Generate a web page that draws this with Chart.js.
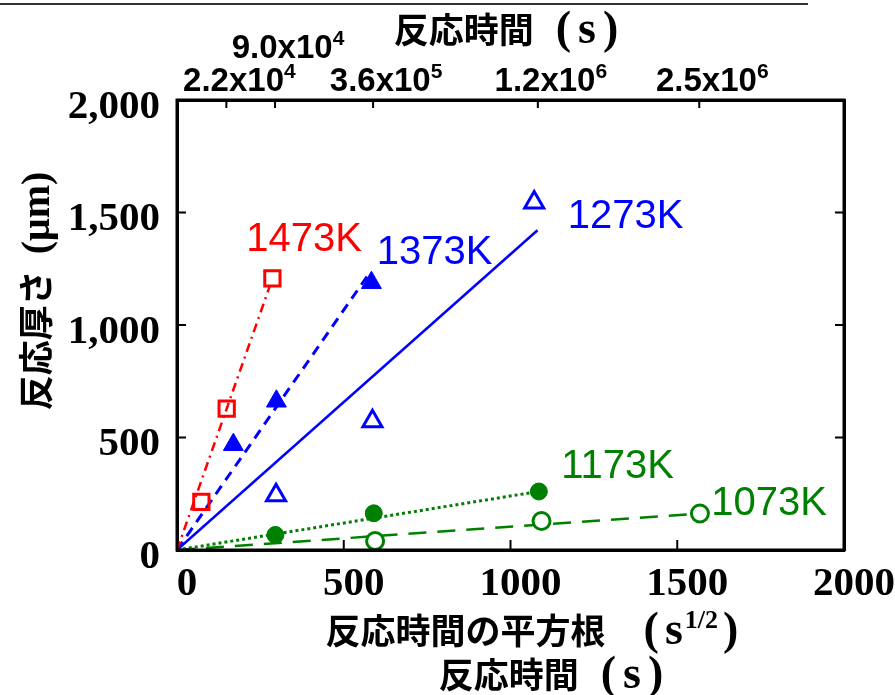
<!DOCTYPE html>
<html>
<head>
<meta charset="utf-8">
<script src="https://cdn.jsdelivr.net/npm/chart.js@4.4.1/dist/chart.umd.min.js"></script>
<style>
  html, body { margin: 0; padding: 0; background: #ffffff; }
  canvas { display: block; }
</style>
</head>
<body>
<canvas id="chart" width="895" height="695"></canvas>
<script>
// Reaction layer thickness (µm) against the square root of reaction time (s^1/2)

const xTickValues = [0, 500, 1000, 1500, 2000];
const yTickValues = [0, 500, 1000, 1500, 2000];

// upper time axis: positions in s^1/2 and the labels in seconds
const timeTickValues   = [148, 294, 588, 1082, 1566];
const timeTickMantissa = ['2.2', '9.0', '3.6', '1.2', '2.5'];
const timeTickExponent = ['4', '4', '5', '6', '6'];
const timeTickRow      = [0, 1, 0, 0, 0];

// measured points, one pair of arrays per temperature
const x1473 = [73, 149, 286];
const y1473 = [214, 628, 1207];
const x1373 = [169, 298, 583];
const y1373 = [468, 661, 1188];
const x1273 = [297, 586, 1071];
const y1273 = [243, 572, 1545];
const x1173 = [295, 590, 1085];
const y1173 = [67, 163, 260];
const x1073 = [594, 1093, 1568];
const y1073 = [40, 129, 162];

// parabolic-law fits through the origin
const fitX1473 = [0, 279];
const fitY1473 = [0, 1176];
const fitX1373 = [0, 572];
const fitY1373 = [0, 1220];
const fitX1273 = [0, 1081];
const fitY1273 = [0, 1421];
const fitX1173 = [0, 1075];
const fitY1173 = [0, 258];
const fitX1073 = [0, 1545];
const fitY1073 = [0, 160];

// temperature labels and where they sit (data units, left / baseline)
const seriesNames  = ['1473K', '1373K', '1273K', '1173K', '1073K'];
const seriesLabelX = [208, 599, 1172, 1152, 1602];
const seriesLabelY = [1330, 1270, 1431, 319, 156];

const RED = '#ff0000';
const BLUE = '#0000ff';
const GREEN = '#008000';
const seriesColors = [RED, BLUE, BLUE, GREEN, GREEN];

const toXY = (xs, ys) => xs.map((x, i) => ({ x: x, y: ys[i] }));

const CJK = '"Noto Sans CJK JP", "Noto Sans CJK SC", sans-serif';
const SERIF = '"Liberation Serif", "Times New Roman", serif';
const SANS = '"Liberation Sans", Arial, sans-serif';

function markers(label, xs, ys, color, style, radius, filled, border) {
  return {
    label: label,
    data: toXY(xs, ys),
    showLine: false,
    pointStyle: style,
    pointRadius: radius,
    pointHoverRadius: radius,
    pointBorderWidth: border,
    pointBorderColor: color,
    pointBackgroundColor: filled === true ? color : filled,
    order: 0
  };
}

function fitLine(label, xs, ys, color, dash, width) {
  return {
    label: label,
    data: toXY(xs, ys),
    showLine: true,
    fill: false,
    borderColor: color,
    borderWidth: width,
    borderDash: dash,
    pointRadius: 0,
    pointHoverRadius: 0,
    order: 1
  };
}

// draws a run of text pieces in different fonts, centred on cx
function drawRuns(ctx, runs, cx, baseline) {
  let total = 0;
  runs.forEach(r => {
    ctx.font = r.font;
    r.w = ctx.measureText(r.t).width;
    total += r.w + (r.gap || 0);
  });
  let x = cx - total / 2;
  ctx.textAlign = 'left';
  ctx.textBaseline = 'alphabetic';
  runs.forEach(r => {
    x += (r.gap || 0);
    ctx.font = r.font;
    ctx.fillText(r.t, x, baseline - (r.rise || 0));
    x += r.w;
  });
}

const PAREN = 'bold 46px ' + SERIF;
const TITLE = 'bold 35px ' + CJK;

// "(s)" spelled out with a little air between the glyphs
function secondsUnit(lead) {
  return [
    { t: '(', font: PAREN, gap: lead },
    { t: 's', font: PAREN, gap: 7 },
    { t: ')', font: PAREN, gap: 7 }
  ];
}

const decorations = {
  id: 'decorations',
  afterDraw(chart) {
    const ctx = chart.ctx;
    const xs = chart.scales.x;
    const ys = chart.scales.y;
    const area = chart.chartArea;
    ctx.save();

    // rule across the top of the sheet
    ctx.strokeStyle = '#333333';
    ctx.lineWidth = 2;
    ctx.beginPath();
    ctx.moveTo(0, 4);
    ctx.lineTo(808, 4);
    ctx.stroke();

    // frame
    ctx.strokeStyle = '#000000';
    ctx.lineWidth = 3;
    ctx.strokeRect(area.left, area.top, area.right - area.left, area.bottom - area.top);

    // inward tick marks
    ctx.lineWidth = 2;
    ctx.beginPath();
    xTickValues.slice(1, -1).forEach(v => {
      const px = xs.getPixelForValue(v);
      ctx.moveTo(px, area.bottom);
      ctx.lineTo(px, area.bottom - 10);
    });
    yTickValues.slice(1, -1).forEach(v => {
      const py = ys.getPixelForValue(v);
      ctx.moveTo(area.left, py);
      ctx.lineTo(area.left + 9, py);
      ctx.moveTo(area.right, py);
      ctx.lineTo(area.right - 9, py);
    });
    timeTickValues.forEach(v => {
      const px = xs.getPixelForValue(v);
      ctx.moveTo(px, area.top);
      ctx.lineTo(px, area.top + 8);
    });
    ctx.stroke();

    // upper axis labels: reaction time in seconds
    ctx.fillStyle = '#000000';
    timeTickValues.forEach((v, i) => {
      const px = xs.getPixelForValue(v) + 13;
      const base = timeTickRow[i] === 0 ? 91 : 58;
      drawRuns(ctx, [
        { t: timeTickMantissa[i] + 'x10', font: 'bold 33px ' + SANS },
        { t: timeTickExponent[i], font: 'bold 21px ' + SANS, rise: 13 }
      ], px, base);
    });

    // axis titles
    drawRuns(ctx, [{ t: '反応時間', font: TITLE }].concat(secondsUnit(22)), 506, 43);
    drawRuns(ctx, [
      { t: '反応時間の平方根', font: TITLE },
      { t: '(', font: PAREN, gap: 38 },
      { t: 's', font: PAREN, gap: 6 },
      { t: '1/2', font: 'bold 26px ' + SERIF, rise: 16, gap: 2 },
      { t: ')', font: PAREN, gap: 5 }
    ], 532, 644);
    drawRuns(ctx, [{ t: '反応時間', font: TITLE }].concat(secondsUnit(22)), 551, 688);

    ctx.save();
    ctx.translate(49, 291);
    ctx.rotate(-Math.PI / 2);
    drawRuns(ctx, [
      { t: '反応厚さ', font: TITLE },
      { t: '(μm)', font: 'bold 40px ' + SERIF, gap: 16 }
    ], 0, 0);
    ctx.restore();

    // temperature labels
    ctx.font = '40px ' + SANS;
    ctx.textAlign = 'left';
    ctx.textBaseline = 'alphabetic';
    seriesNames.forEach((name, i) => {
      ctx.fillStyle = seriesColors[i];
      ctx.fillText(name, xs.getPixelForValue(seriesLabelX[i]), ys.getPixelForValue(seriesLabelY[i]));
    });

    ctx.restore();
  }
};

new Chart(document.getElementById('chart'), {
  type: 'scatter',
  data: {
    datasets: [
      markers('1473K', x1473, y1473, RED, 'rect', 10.8, 'rgba(0,0,0,0)', 3),
      markers('1373K', x1373, y1373, BLUE, 'triangle', 11.5, true, 1),
      markers('1273K', x1273, y1273, BLUE, 'triangle', 11, '#ffffff', 3),
      markers('1173K', x1173, y1173, GREEN, 'circle', 8.5, true, 1),
      markers('1073K', x1073, y1073, GREEN, 'circle', 8.5, '#ffffff', 3),
      fitLine('1473K fit', fitX1473, fitY1473, RED, [9, 5, 2, 5], 2.5),
      fitLine('1373K fit', fitX1373, fitY1373, BLUE, [10, 7], 3),
      fitLine('1273K fit', fitX1273, fitY1273, BLUE, [], 2.5),
      fitLine('1173K fit', fitX1173, fitY1173, GREEN, [3, 3], 3),
      fitLine('1073K fit', fitX1073, fitY1073, GREEN, [18, 11], 2.5)
    ]
  },
  options: {
    responsive: false,
    animation: false,
    devicePixelRatio: 1,
    layout: { padding: 0 },
    plugins: { legend: { display: false }, tooltip: { enabled: false } },
    scales: {
      x: {
        type: 'linear',
        position: 'bottom',
        min: 0,
        max: 2000,
        afterBuildTicks: s => { s.ticks = xTickValues.map(v => ({ value: v })); },
        ticks: {
          color: '#000000',
          font: { family: SERIF, size: 41, weight: 'bold' },
          padding: 10,
          labelOffset: 10,
          maxRotation: 0,
          autoSkip: false,
          callback: v => String(v)
        },
        grid: { display: false, drawTicks: false },
        border: { display: true, color: '#000000', width: 3 },
        afterFit: s => { s.height = 145; }
      },
      x2: {
        type: 'linear',
        position: 'top',
        min: 0,
        max: 2000,
        ticks: { display: false },
        grid: { display: false, drawTicks: false },
        border: { display: true, color: '#000000', width: 3 },
        afterFit: s => { s.height = 100; }
      },
      y: {
        type: 'linear',
        position: 'left',
        min: 0,
        max: 2000,
        afterBuildTicks: s => { s.ticks = yTickValues.map(v => ({ value: v })); },
        ticks: {
          color: '#000000',
          font: { family: SERIF, size: 41, weight: 'bold' },
          padding: 17,
          labelOffset: 7,
          autoSkip: false,
          callback: v => v.toLocaleString('en-US')
        },
        grid: { display: false, drawTicks: false },
        border: { display: true, color: '#000000', width: 3 },
        afterFit: s => { s.width = 177; }
      },
      y2: {
        type: 'linear',
        position: 'right',
        min: 0,
        max: 2000,
        ticks: { display: false },
        grid: { display: false, drawTicks: false },
        border: { display: true, color: '#000000', width: 3 },
        afterFit: s => { s.width = 44; }
      }
    }
  },
  plugins: [decorations]
});
</script>
</body>
</html>
